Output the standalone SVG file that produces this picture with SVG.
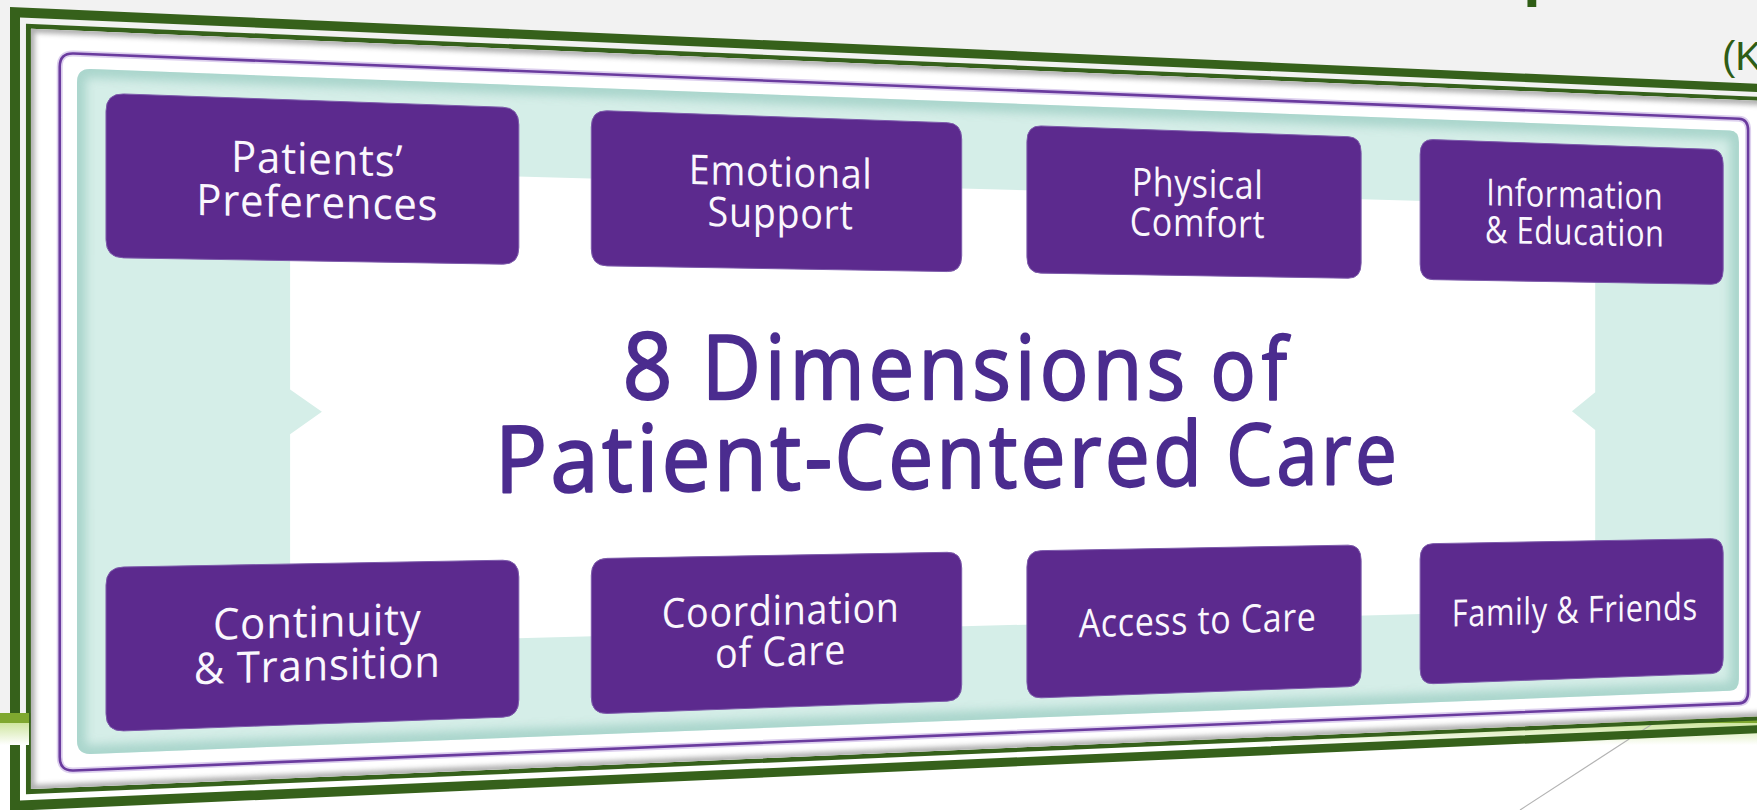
<svg xmlns="http://www.w3.org/2000/svg" width="1757" height="810" viewBox="0 0 1757 810">
  <defs>
    <style>
      .frame-green { fill: #36611b; fill-rule: evenodd; }
      .bar { fill: #7fa82f; }
      .box { fill: #5c2a8e; stroke: #7d5bab; stroke-width: 1; }
      .lbl { font-family: "Open Sans", "Noto Sans", "Liberation Sans", sans-serif; font-size: 45px; fill: #faf7fd; text-anchor: middle; letter-spacing: 0.8px; }
      .ttl { font-family: "Open Sans", "Noto Sans", "Liberation Sans", sans-serif; font-size: 100px; font-weight: 400; fill: #4b2c8f; stroke: #4b2c8f; stroke-width: 2.4; stroke-linejoin: round; text-anchor: middle; }
      .head { font-family: "Liberation Sans", Arial, sans-serif; fill: #2f5d15; }
    </style>
    <linearGradient id="barGlow" x1="0" y1="0" x2="0" y2="1">
      <stop offset="0" stop-color="#cfe6a0"/>
      <stop offset="1" stop-color="#ffffff"/>
    </linearGradient>
    <filter id="blurWide" x="-5%" y="-5%" width="110%" height="110%">
      <feGaussianBlur stdDeviation="5"/>
    </filter>
    <filter id="blurNarrow" x="-5%" y="-5%" width="110%" height="110%">
      <feGaussianBlur stdDeviation="2.5"/>
    </filter>
    <clipPath id="tealClip">
      <path d="M90.8,69.03 L1729.7,130.5 Q1738.9,130.85 1738.9,142.15 L1738.9,679.14 Q1738.9,690.44 1729.7,690.79 L90.8,753.89 Q77,754.42 77,740.52 L77,82.41 Q77,68.51 90.8,69.03 Z"/>
    </clipPath>
    <clipPath id="innerClip">
      <path d="M30.95,28.87 L1767.1,101.25 L1767.1,715.98 L30.95,789.12 Z"/>
    </clipPath>
  </defs>

  <!-- slide background -->
  <g id="slide">
    <rect width="1757" height="810" fill="#ffffff"/>
    <rect width="1757" height="713" fill="#f2f2f2"/>
    <rect class="bar" y="713" width="1757" height="10"/>
    <rect y="723" width="1757" height="22" fill="url(#barGlow)"/>
    <line x1="1700" y1="693" x2="1520" y2="810" stroke="#b3b3b3" stroke-width="1.2"/>
    <text class="head" x="1523" y="-6.3" font-size="64" font-weight="bold">p</text>
    <text class="head" x="1722" y="70" font-size="40">(K</text>
  </g>

  <!-- tilted picture frame: double green border with open gap -->
  <g id="frame">
    <path class="frame-green" d="M10,7 L1780.7,84.9 L1780.7,732.3 L10,811 Z M19.99,17.43 L1774.2,92.7 L1774.2,724.5 L19.99,800.57 Z"/>
    <path class="frame-green" d="M25.97,23.67 L1770.3,97.4 L1770.3,719.9 L25.97,794.32 Z M30.95,28.87 L1767.1,101.25 L1767.1,715.98 L30.95,789.12 Z"/>
    <path d="M30.95,28.87 L1767.1,101.25 L1767.1,715.98 L30.95,789.12 Z" fill="#ffffff"/>
    <g clip-path="url(#innerClip)">
      <path d="M30.95,28.87 L1767.1,101.25 L1767.1,715.98 L30.95,789.12 Z" fill="none" stroke="#6f6f6f" stroke-width="8" opacity="0.55" filter="url(#blurNarrow)"/>
    </g>
  </g>

  <!-- accent bar end crossing the left border -->
  <g id="bar-end">
    <rect class="bar" y="713" width="29" height="10"/>
    <rect y="723" width="29" height="22" fill="url(#barGlow)"/>
  </g>

  <!-- rounded outline and teal panel -->
  <g id="panel">
    <path d="M73.58,53.49 L1738.9,118.71 Q1748.1,119.07 1748.1,130.37 L1748.1,691.72 Q1748.1,703.02 1738.9,703.39 L73.58,770.44 Q59.73,771 59.73,757.1 L59.73,66.85 Q59.73,52.95 73.58,53.49 Z" fill="none" stroke="#ddd0ee" stroke-width="6"/>
    <path d="M73.58,53.49 L1738.9,118.71 Q1748.1,119.07 1748.1,130.37 L1748.1,691.72 Q1748.1,703.02 1738.9,703.39 L73.58,770.44 Q59.73,771 59.73,757.1 L59.73,66.85 Q59.73,52.95 73.58,53.49 Z" fill="none" stroke="#6a3b9e" stroke-width="2.6"/>
    <path d="M90.8,69.03 L1729.7,130.5 Q1738.9,130.85 1738.9,142.15 L1738.9,679.14 Q1738.9,690.44 1729.7,690.79 L90.8,753.89 Q77,754.42 77,740.52 L77,82.41 Q77,68.51 90.8,69.03 Z" fill="#d5eee8"/>
    <g clip-path="url(#tealClip)">
      <path d="M90.8,69.03 L1729.7,130.5 Q1738.9,130.85 1738.9,142.15 L1738.9,679.14 Q1738.9,690.44 1729.7,690.79 L90.8,753.89 Q77,754.42 77,740.52 L77,82.41 Q77,68.51 90.8,69.03 Z" fill="none" stroke="#9ccdc3" stroke-width="18" opacity="0.75" filter="url(#blurWide)"/>
    </g>
    <path d="M290.1,170.52 L1595.2,205.55 L1595.2,392.14 L1571.96,411.14 L1595.2,430.12 L1595.2,609.28 L290.1,644.45 L290.1,434.14 L321.9,411.83 L290.1,389.55 Z" fill="#ffffff"/>
  </g>

  <!-- central title, set word by word along the tilted plane -->
  <g id="title">
    <g transform="matrix(1.00758 0 0 1 -12.78 0)">
      <text class="ttl" textLength="58.9" lengthAdjust="spacing" transform="matrix(0.8628 0.00081 0 0.92899 655.52 399.1)">8</text>
      <text class="ttl" textLength="596.7" lengthAdjust="spacing" transform="matrix(0.80337 0.00075 0 0.89669 949.18 399.38)">Dimensions</text>
      <text class="ttl" textLength="101.9" lengthAdjust="spacing" transform="matrix(0.74544 0.0007 0 0.86337 1252.05 399.66)">of</text>
    </g>
    <g transform="matrix(1.00782 0 0 1 -13.95 0)">
      <text class="ttl" textLength="389.75" lengthAdjust="spacing" transform="matrix(0.85927 -0.00855 0 0.92713 672.44 490.91)">Patient-</text>
      <text class="ttl" textLength="461.65" lengthAdjust="spacing" transform="matrix(0.78891 -0.00785 0 0.88843 1024.25 487.4)">Centered</text>
      <text class="ttl" textLength="230.55" lengthAdjust="spacing" transform="matrix(0.73338 -0.0073 0 0.85643 1315.18 484.51)">Care</text>
    </g>
  </g>

  <!-- the eight dimension boxes -->
  <g id="node-patients-preferences">
    <path class="box" d="M123.6,93.96 L502.79,107.18 Q518.83,107.74 518.83,124.73 L518.83,247.46 Q518.83,264.45 502.79,264.18 L123.6,257.88 Q105.98,257.59 105.98,239.78 L105.98,111.16 Q105.98,93.35 123.6,93.96 Z"/>
    <text class="lbl" transform="matrix(0.93355 0.02475 0 0.9662 317.25 174.15)">Patients’</text>
    <text class="lbl" transform="matrix(0.93355 0.02013 0 0.9662 317.25 217.62)">Preferences</text>
  </g>
  <g id="node-emotional-support">
    <path class="box" d="M607.06,110.82 L947.28,122.69 Q961.71,123.19 961.71,139.31 L961.71,255.69 Q961.71,271.81 947.28,271.57 L607.06,265.92 Q591.29,265.66 591.29,248.81 L591.29,127.12 Q591.29,110.27 607.06,110.82 Z"/>
    <text class="lbl" transform="matrix(0.83765 0.02221 0 0.91523 780.62 186.43)">Emotional</text>
    <text class="lbl" transform="matrix(0.83765 0.01806 0 0.91523 780.62 227.61)">Support</text>
  </g>
  <g id="node-physical-comfort">
    <path class="box" d="M1041.12,125.96 L1348.08,136.66 Q1361.13,137.11 1361.13,152.43 L1361.13,263.12 Q1361.13,278.44 1348.08,278.22 L1041.12,273.13 Q1026.92,272.89 1026.92,256.9 L1026.92,141.45 Q1026.92,125.46 1041.12,125.96 Z"/>
    <text class="lbl" transform="matrix(0.7558 0.02004 0 0.86937 1197.56 197.48)">Physical</text>
    <text class="lbl" transform="matrix(0.7558 0.0163 0 0.86937 1197.56 236.6)">Comfort</text>
  </g>
  <g id="node-information-education">
    <path class="box" d="M1432.97,139.62 L1711.33,149.33 Q1723.18,149.74 1723.18,164.35 L1723.18,269.85 Q1723.18,284.46 1711.33,284.26 L1432.97,279.63 Q1420.12,279.42 1420.12,264.21 L1420.12,154.38 Q1420.12,139.17 1432.97,139.62 Z"/>
    <text class="lbl" transform="matrix(0.68539 0.01817 0 0.82788 1574.7 207.48)">Information</text>
    <text class="lbl" transform="matrix(0.68539 0.01478 0 0.82788 1574.7 244.74)">&amp; Education</text>
  </g>
  <g id="node-continuity-transition">
    <path class="box" d="M123.6,566.98 L502.79,560.22 Q518.83,559.93 518.83,576.92 L518.83,699.65 Q518.83,716.64 502.79,717.22 L123.6,730.9 Q105.98,731.54 105.98,713.73 L105.98,585.1 Q105.98,567.29 123.6,566.98 Z"/>
    <text class="lbl" transform="matrix(0.93355 -0.02444 0 0.9662 317.25 636.96)">Continuity</text>
    <text class="lbl" transform="matrix(0.93355 -0.02906 0 0.9662 317.25 680.43)">&amp; Transition</text>
  </g>
  <g id="node-coordination-of-care">
    <path class="box" d="M607.06,558.36 L947.28,552.3 Q961.71,552.04 961.71,568.16 L961.71,684.54 Q961.71,700.66 947.28,701.18 L607.06,713.46 Q591.29,714.03 591.29,697.18 L591.29,575.49 Q591.29,558.64 607.06,558.36 Z"/>
    <text class="lbl" transform="matrix(0.83765 -0.02193 0 0.91523 780.62 624.83)">Coordination</text>
    <text class="lbl" transform="matrix(0.83765 -0.02608 0 0.91523 780.62 666.01)">of Care</text>
  </g>
  <g id="node-access-to-care">
    <path class="box" d="M1041.12,550.63 L1348.08,545.15 Q1361.13,544.92 1361.13,560.24 L1361.13,670.93 Q1361.13,686.25 1348.08,686.72 L1041.12,697.8 Q1026.92,698.31 1026.92,682.32 L1026.92,566.87 Q1026.92,550.88 1041.12,550.63 Z"/>
    <text class="lbl" transform="matrix(0.7558 -0.0217 0 0.86937 1197.56 633.91)">Access to Care</text>
  </g>
  <g id="node-family-friends">
    <path class="box" d="M1432.97,543.64 L1711.33,538.68 Q1723.18,538.47 1723.18,553.08 L1723.18,658.58 Q1723.18,673.19 1711.33,673.62 L1432.97,683.66 Q1420.12,684.12 1420.12,668.91 L1420.12,559.08 Q1420.12,543.87 1432.97,543.64 Z"/>
    <text class="lbl" transform="matrix(0.68539 -0.01968 0 0.82788 1574.7 623.08)">Family &amp; Friends</text>
  </g>

  <g id="connectors"></g>
</svg>
